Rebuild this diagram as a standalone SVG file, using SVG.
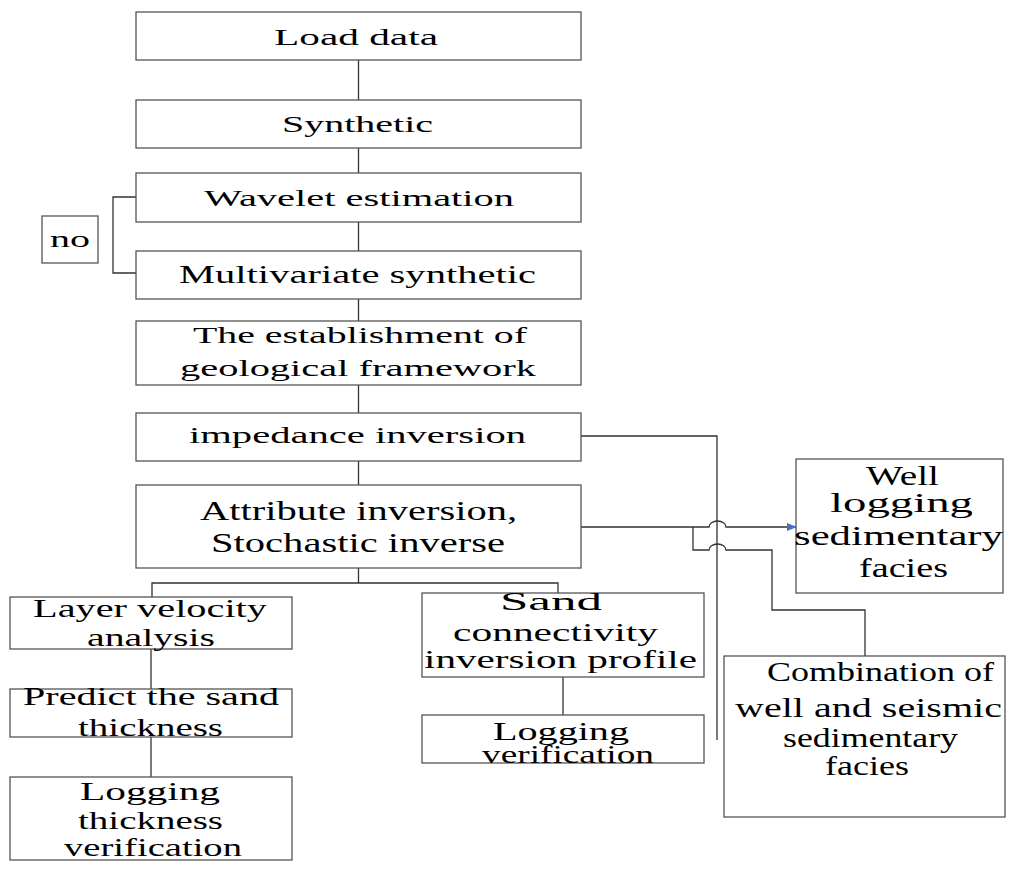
<svg xmlns="http://www.w3.org/2000/svg" width="1009" height="876" viewBox="0 0 1009 876">
<style>
.box{fill:#fff;stroke:#555;stroke-width:1.3}
text{font-family:'Liberation Serif','DejaVu Serif',serif;fill:#000;text-anchor:middle}
.c{fill:none;stroke:#333;stroke-width:1.3}
</style>
<defs>
<marker id="ah" markerWidth="10" markerHeight="8" refX="9" refY="4" orient="auto" markerUnits="userSpaceOnUse">
<path d="M0,0 L10,4 L0,8 Z" fill="#4472C4"/>
</marker>
</defs>
<rect width="1009" height="876" fill="#fff"/>
<g id="connectors">
<path class="c" d="M358.5,60 V100 M358.5,148 V173 M358.5,222 V251 M358.5,299 V321 M358.5,385 V413 M358.5,461 V485 M358.5,568 V583"/>
<path class="c" d="M152,597 V583 H558 V593"/>
<path class="c" d="M151,649 V689 M151,737 V777 M563,677 V715"/>
<path class="c" d="M136,197 H113 V273 H136"/>
<path class="c" d="M581,436 H717 V740"/>
<path class="c" d="M581,527 H709 A8.5 6 0 0 1 726,527 H796" stroke="#2b3a52" marker-end="url(#ah)"/>
<path class="c" d="M693,527 V550 H709 A8.5 6 0 0 1 726,550 H772 V610 H865 V656"/>
</g>
<g id="load"><rect class="box" x="136" y="12" width="445" height="48"/><text x="356" y="45" font-size="23" textLength="164" lengthAdjust="spacingAndGlyphs">Load data</text></g>
<g id="synthetic"><rect class="box" x="136" y="100" width="445" height="48"/><text x="357.5" y="132" font-size="23" textLength="151" lengthAdjust="spacingAndGlyphs">Synthetic</text></g>
<g id="wavelet"><rect class="box" x="136" y="173" width="445" height="49"/><text x="359" y="206" font-size="24" textLength="310" lengthAdjust="spacingAndGlyphs">Wavelet estimation</text></g>
<g id="multivariate"><rect class="box" x="136" y="251" width="445" height="48"/><text x="357.5" y="283" font-size="25" textLength="357" lengthAdjust="spacingAndGlyphs">Multivariate synthetic</text></g>
<g id="no"><rect class="box" x="42" y="216" width="56" height="47"/><text x="70" y="247" font-size="24" textLength="40" lengthAdjust="spacingAndGlyphs">no</text></g>
<g id="framework"><rect class="box" x="136" y="321" width="445" height="64"/><text x="360" y="343" font-size="24" textLength="334" lengthAdjust="spacingAndGlyphs">The establishment of</text><text x="358" y="376" font-size="24" textLength="356" lengthAdjust="spacingAndGlyphs">geological framework</text></g>
<g id="impedance"><rect class="box" x="136" y="413" width="445" height="48"/><text x="357.5" y="443" font-size="24" textLength="337" lengthAdjust="spacingAndGlyphs">impedance inversion</text></g>
<g id="attribute"><rect class="box" x="136" y="485" width="445" height="83"/><text x="358.5" y="520" font-size="27" textLength="317" lengthAdjust="spacingAndGlyphs">Attribute inversion,</text><text x="358" y="552" font-size="27" textLength="294" lengthAdjust="spacingAndGlyphs">Stochastic inverse</text></g>
<g id="layer"><rect class="box" x="10" y="597" width="282" height="52"/><text x="150" y="617" font-size="25" textLength="234" lengthAdjust="spacingAndGlyphs">Layer velocity</text><text x="151" y="646" font-size="25" textLength="128" lengthAdjust="spacingAndGlyphs">analysis</text></g>
<g id="predict"><rect class="box" x="10" y="689" width="282" height="48"/><text x="151" y="705" font-size="25" textLength="256" lengthAdjust="spacingAndGlyphs">Predict the sand</text><text x="150.5" y="736" font-size="25" textLength="145" lengthAdjust="spacingAndGlyphs">thickness</text></g>
<g id="thickver"><rect class="box" x="10" y="777" width="282" height="83"/><text x="150" y="800" font-size="25" textLength="140" lengthAdjust="spacingAndGlyphs">Logging</text><text x="150.5" y="829" font-size="25" textLength="145" lengthAdjust="spacingAndGlyphs">thickness</text><text x="153" y="856" font-size="25" textLength="178" lengthAdjust="spacingAndGlyphs">verification</text></g>
<g id="sand"><rect class="box" x="422" y="593" width="282" height="84"/><text x="551" y="610" font-size="25" textLength="102" lengthAdjust="spacingAndGlyphs">Sand</text><text x="555.5" y="641" font-size="25" textLength="205" lengthAdjust="spacingAndGlyphs">connectivity</text><text x="560.5" y="668" font-size="25" textLength="273" lengthAdjust="spacingAndGlyphs">inversion profile</text></g>
<g id="logver"><rect class="box" x="422" y="715" width="282" height="48"/><text x="561" y="740" font-size="25" textLength="136" lengthAdjust="spacingAndGlyphs">Logging</text><text x="568" y="763" font-size="25" textLength="172" lengthAdjust="spacingAndGlyphs">verification</text></g>
<g id="well"><rect class="box" x="796" y="459" width="207" height="134"/><text x="902.5" y="485" font-size="27" textLength="73" lengthAdjust="spacingAndGlyphs">Well</text><text x="901.5" y="512" font-size="27" textLength="143" lengthAdjust="spacingAndGlyphs">logging</text><text x="898.5" y="545" font-size="27" textLength="209" lengthAdjust="spacingAndGlyphs">sedimentary</text><text x="903.5" y="577" font-size="27" textLength="89" lengthAdjust="spacingAndGlyphs">facies</text></g>
<g id="combination"><rect class="box" x="724" y="656" width="281" height="161"/><text x="880.5" y="681" font-size="28" textLength="227" lengthAdjust="spacingAndGlyphs">Combination of</text><text x="868.5" y="717" font-size="28" textLength="267" lengthAdjust="spacingAndGlyphs">well and seismic</text><text x="870.5" y="747" font-size="28" textLength="175" lengthAdjust="spacingAndGlyphs">sedimentary</text><text x="867" y="775" font-size="28" textLength="84" lengthAdjust="spacingAndGlyphs">facies</text></g>
</svg>
